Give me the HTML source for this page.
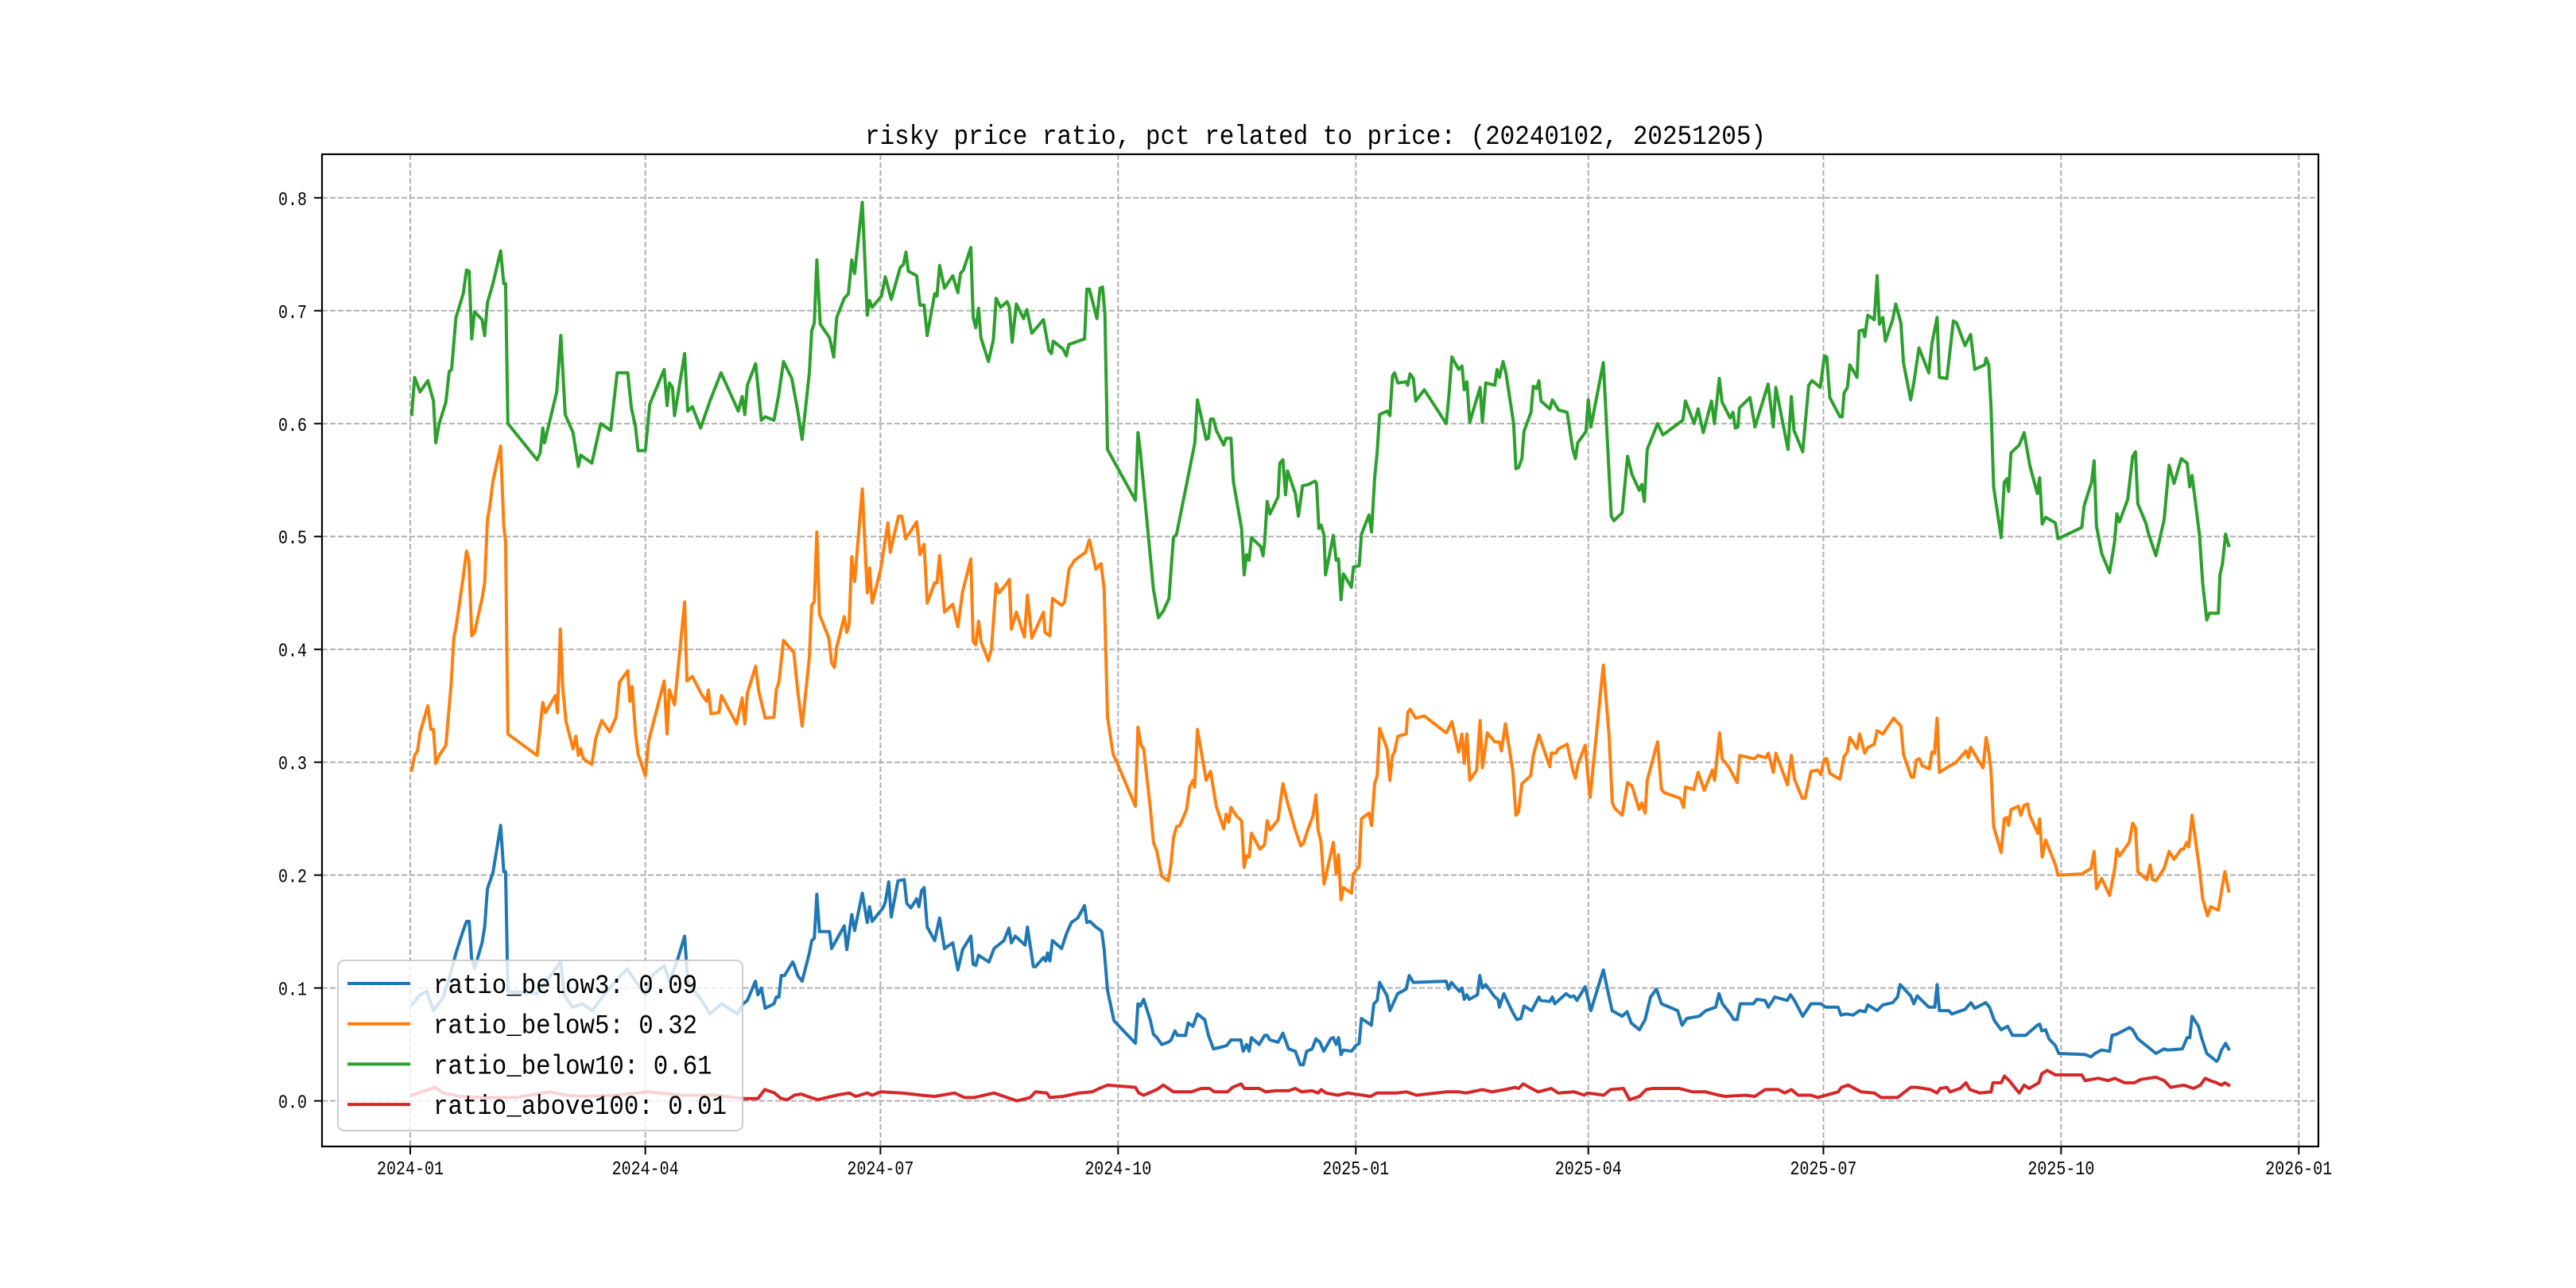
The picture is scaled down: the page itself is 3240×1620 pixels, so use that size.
<!DOCTYPE html>
<html><head><meta charset="utf-8"><style>
html,body{margin:0;padding:0;background:#fff;}
svg{display:block;}
text{font-family:"Liberation Mono","WenQuanYi Zen Hei",monospace;fill:#000;}
</style></head><body>
<svg id="chart" width="3240" height="1620" viewBox="0 0 3240 1620" xmlns="http://www.w3.org/2000/svg">
<rect x="0" y="0" width="3240" height="1620" fill="#fff"/>
<g id="grid"></g>
<g id="series"></g>
<rect x="405" y="194" width="2511" height="1248" fill="none" stroke="#000" stroke-width="2.2"/>
<g id="ticks"></g>
<text x="1088" y="181" font-size="34" textLength="1133" lengthAdjust="spacingAndGlyphs">risky price ratio, pct related to price: (20240102, 20251205)</text>
<g id="legend"></g>
</svg>
<script>
// x values are days since 2024-01-01
const xTickDays = [0, 91, 182, 274, 366, 456, 547, 639, 731];
const xTickLabels = ["2024-01","2024-04","2024-07","2024-10","2025-01","2025-04","2025-07","2025-10","2026-01"];
const yTicks = [0, 0.1, 0.2, 0.3, 0.4, 0.5, 0.6, 0.7, 0.8];
const yTickLabels = ["0.0","0.1","0.2","0.3","0.4","0.5","0.6","0.7","0.8"];
const seriesNames = ["ratio_below3: 0.09","ratio_below5: 0.32","ratio_below10: 0.61","ratio_above100: 0.01"];

const below3 = [[0.6,.085],[3.8,.094],[6.4,.097],[9,.080],[12.8,.092],[15.4,.111],[17.7,.131],[20.5,.151],[21.8,.159],[22.8,.159],[23.8,.125],[24.9,.117],[27.8,.140],[28.8,.154],[29.9,.188],[32,.202],[35,.244],[36.2,.203],[36.9,.203],[37.8,.097],[49,.095],[58.3,.123],[59.6,.094],[62.8,.083],[66.7,.086],[70.5,.080],[74.4,.092],[79.5,.106],[84,.117],[87.2,.106],[91,.094],[93.6,.111],[98.3,.120],[100.3,.106],[103.2,.123],[106.2,.146],[107.4,.106],[112.8,.089],[116,.077],[120.5,.086],[126.7,.077],[128.8,.086],[130.5,.089],[133.6,.106],[134.6,.094],[135.9,.100],[137.4,.082],[140.8,.086],[141.7,.092],[142.7,.092],[143.6,.111],[144.9,.111],[148,.123],[148.5,.121],[150,.111],[151.7,.106],[154.5,.131],[155.4,.142],[156.4,.144],[157.4,.183],[158.4,.150],[162.3,.150],[163.1,.135],[168,.155],[169,.134],[170.9,.165],[172,.151],[175,.184],[176.9,.158],[177.8,.172],[178.8,.159],[183,.171],[183.9,.176],[185.2,.194],[186.2,.163],[188.8,.195],[191.2,.196],[192.2,.175],[193.8,.171],[196,.179],[196.9,.172],[197.9,.186],[198.9,.189],[200.1,.154],[203,.142],[204.9,.162],[206.8,.135],[210,.140],[212,.116],[213.8,.134],[217,.146],[217.9,.121],[218.9,.120],[220,.129],[224,.123],[226,.135],[229.8,.142],[231.7,.153],[232.7,.140],[234.2,.146],[238,.138],[238.9,.154],[241.2,.119],[242.1,.119],[245.1,.127],[246,.124],[246.7,.131],[247.6,.124],[248.6,.142],[252.1,.135],[254,.148],[255.9,.158],[258.4,.162],[261,.173],[261.9,.158],[263.1,.159],[265.4,.154],[266.7,.152],[267.7,.150],[268.6,.134],[269.9,.098],[272.4,.071],[280.7,.051],[281.7,.086],[282.6,.084],[283.9,.090],[286.4,.072],[287.7,.059],[289,.056],[290.9,.050],[293.4,.052],[294.5,.054],[296,.062],[297,.058],[300.1,.058],[301.1,.069],[303,.066],[304.7,.077],[307.5,.072],[309,.058],[310.9,.046],[314.5,.048],[316,.049],[317.7,.054],[321.5,.054],[322.4,.044],[323.7,.050],[324.7,.044],[325.6,.056],[328.6,.050],[330.7,.058],[331.7,.058],[332.8,.054],[335.9,.052],[337.8,.060],[340,.046],[342.6,.044],[344.5,.032],[345.7,.032],[347,.044],[349.1,.046],[350.6,.055],[352.1,.052],[353.6,.044],[356.3,.055],[357.3,.056],[358.4,.050],[359.3,.056],[360.3,.041],[361.2,.045],[364.3,.044],[366,.049],[367.3,.051],[368.2,.073],[372,.067],[373,.086],[374.3,.089],[375.2,.105],[378.1,.093],[379.2,.080],[382.2,.095],[385.5,.099],[386.7,.111],[388.3,.105],[401,.106],[401.9,.099],[403,.105],[406.1,.097],[407.1,.100],[408,.090],[409,.094],[409.9,.090],[413.1,.094],[414,.111],[415,.100],[416.3,.103],[419.8,.092],[421,.090],[421.6,.083],[423.3,.095],[426.4,.080],[428.3,.072],[429.9,.073],[431.1,.084],[434.1,.080],[436.9,.092],[437.6,.089],[441.1,.088],[442.1,.092],[443,.086],[447.4,.095],[449.1,.092],[450.4,.093],[451.6,.089],[454.8,.101],[457,.080],[458.2,.089],[461.8,.116],[465.2,.080],[469.1,.075],[471,.079],[472.6,.069],[475.8,.063],[478,.072],[480.1,.092],[482.4,.099],[484.3,.086],[490.6,.080],[492.3,.067],[494.1,.073],[498.9,.075],[501.5,.080],[505.3,.083],[506.6,.095],[507.9,.086],[511,.077],[512.3,.072],[513.6,.072],[514.8,.086],[519.9,.086],[521.2,.090],[524.4,.089],[525.7,.083],[528.2,.092],[533,.089],[534.3,.094],[535.8,.089],[539,.075],[542.2,.086],[546,.086],[547.9,.083],[549.5,.083],[552.7,.083],[553.8,.076],[555.9,.077],[558.5,.076],[561,.080],[563.2,.079],[564.2,.085],[567.8,.080],[570,.085],[573.8,.087],[575.7,.092],[576.7,.103],[580.8,.093],[582,.086],[583.3,.093],[587.8,.083],[590.1,.083],[591,.103],[591.9,.080],[595.5,.080],[596.7,.077],[601.8,.081],[604.1,.087],[605.6,.082],[609.8,.087],[611.3,.083],[613.2,.071],[615.8,.063],[618.3,.066],[620.2,.058],[625.3,.058],[629.8,.067],[630.7,.068],[631.5,.062],[633,.063],[634.3,.055],[636.8,.049],[638.1,.042],[648.3,.041],[650.6,.039],[652.1,.042],[654.6,.045],[657.8,.044],[658.7,.058],[660.4,.059],[665.5,.065],[666.7,.063],[668.7,.055],[672.5,.048],[675.7,.042],[678.9,.046],[680.2,.045],[685.9,.046],[687.8,.056],[688.8,.056],[689.7,.075],[692.2,.066],[693.5,.055],[695.4,.042],[699.2,.035],[699.9,.037],[701.1,.045],[702.7,.051],[703.9,.046]];

const below5 = [[0.6,.293],[1.7,.306],[2.8,.310],[3.8,.326],[6.8,.350],[8,.329],[9,.329],[9.9,.299],[11.2,.306],[13.8,.315],[15.8,.368],[16.9,.411],[17.7,.419],[20.5,.464],[21.8,.487],[22.7,.479],[23.8,.412],[24.9,.415],[27.8,.445],[28.8,.459],[29.9,.515],[30.8,.527],[32,.549],[35,.580],[36.2,.510],[36.9,.495],[37.8,.325],[49.1,.306],[51.3,.353],[52.3,.344],[56.2,.359],[57,.344],[58.1,.418],[59,.367],[60.3,.336],[63,.312],[64.1,.323],[65.1,.306],[66,.312],[67,.303],[70.3,.298],[71.8,.321],[74.1,.337],[77.2,.327],[79.7,.340],[81,.371],[84.2,.381],[85,.354],[85.9,.367],[87.2,.326],[88.2,.307],[91,.288],[92.3,.319],[98.3,.372],[99.4,.325],[100.3,.364],[102.3,.351],[106.2,.442],[107.1,.372],[109.2,.376],[112.8,.360],[114.7,.354],[115.4,.364],[116.4,.343],[119.5,.344],[120.5,.359],[126.3,.334],[128.5,.357],[129.5,.334],[130.5,.361],[133.7,.385],[134.9,.363],[137.4,.339],[140.8,.340],[141.7,.364],[142.7,.371],[144.5,.408],[148.5,.397],[150,.363],[151.7,.332],[154.5,.393],[155.4,.439],[156.4,.442],[157.4,.504],[158.4,.431],[162,.410],[163.1,.388],[164.2,.384],[165.1,.402],[168,.429],[169,.415],[169.9,.422],[170.9,.482],[172,.460],[175,.542],[176.9,.450],[177.8,.472],[178.8,.441],[182,.470],[184.9,.512],[185.8,.486],[189,.518],[190.3,.518],[191.8,.498],[196,.513],[197.3,.484],[198.9,.493],[200.1,.441],[203,.459],[203.9,.459],[204.9,.483],[206.8,.433],[210,.440],[212,.420],[213.8,.451],[217,.480],[217.9,.407],[218.9,.404],[220,.425],[220.9,.407],[223.8,.390],[225,.401],[226.8,.458],[227.9,.450],[230.8,.458],[231.9,.462],[232.7,.418],[234.6,.433],[237.7,.411],[238.9,.448],[240.6,.410],[245.1,.433],[245.7,.415],[247.6,.412],[248.6,.445],[252.1,.439],[253.3,.442],[255,.471],[257.2,.479],[261.4,.486],[262.9,.497],[265.4,.471],[267.4,.476],[268.6,.453],[269.9,.340],[272.1,.307],[273.7,.299],[280.7,.261],[281.7,.331],[282.9,.315],[283.9,.312],[286.4,.261],[287.7,.229],[289,.221],[290.9,.199],[293.4,.195],[294.5,.210],[295.4,.233],[296.6,.243],[297.9,.244],[300.5,.258],[301.7,.278],[303,.284],[303.6,.278],[304.7,.329],[308.1,.284],[309.8,.292],[312,.261],[314.9,.241],[315.8,.254],[316.8,.247],[317.7,.260],[319.6,.253],[321.8,.248],[322.8,.207],[323.7,.217],[324.7,.216],[325.6,.237],[328.9,.223],[330.7,.227],[331.7,.248],[332.8,.240],[335.9,.249],[337.8,.281],[339.6,.264],[342.6,.240],[344.7,.226],[345.7,.228],[347.4,.240],[349.5,.253],[350.6,.271],[351.4,.240],[352.5,.230],[353.7,.192],[357.3,.229],[358.4,.201],[359.3,.218],[360.3,.178],[361.2,.189],[364.3,.184],[365.1,.201],[367.3,.208],[368.2,.250],[371.1,.255],[372.1,.244],[373.3,.281],[374.3,.288],[375.2,.330],[378.1,.312],[379.2,.284],[380.2,.306],[381,.309],[382.3,.323],[385.5,.325],[386.1,.344],[387,.347],[389.2,.339],[392.5,.341],[401,.326],[403.2,.336],[405.8,.309],[407.1,.325],[408,.299],[409,.325],[410.1,.284],[412.8,.293],[414.1,.337],[415,.295],[416.9,.326],[419.8,.318],[421.6,.318],[422.4,.310],[423.9,.334],[426.8,.292],[428,.253],[429,.256],[430.3,.281],[433.7,.288],[434.7,.306],[436.9,.324],[441.1,.296],[441.7,.308],[443.4,.308],[444.5,.312],[447.8,.316],[450,.293],[451,.286],[452.1,.299],[454.8,.315],[456,.284],[456.7,.269],[461.8,.386],[464,.325],[465.3,.264],[466.3,.259],[469.1,.253],[471.2,.282],[472.9,.279],[475.7,.258],[476.7,.264],[478,.255],[478.8,.284],[482.8,.318],[484.3,.276],[485.4,.273],[491.6,.268],[492.9,.260],[493.6,.278],[496.8,.276],[498.5,.291],[500.9,.275],[504,.293],[504.9,.284],[506.8,.326],[507.8,.303],[510.3,.296],[513.6,.282],[514.6,.306],[520.3,.303],[521.6,.306],[524.6,.304],[525.7,.308],[527.6,.291],[528.6,.308],[533.1,.280],[534.6,.306],[535.8,.285],[538.8,.268],[539.9,.268],[542.2,.292],[544.8,.293],[546,.289],[547.4,.303],[548.3,.303],[549.5,.290],[553.4,.285],[555,.305],[556.3,.309],[557.2,.322],[560,.312],[561,.325],[563,.308],[564.2,.313],[566.7,.316],[567.8,.328],[570,.325],[574.2,.339],[577,.332],[578,.307],[581,.287],[582,.287],[583,.302],[584.2,.303],[585.2,.297],[588,.294],[589,.309],[590,.308],[591,.339],[591.9,.291],[596,.297],[598,.299],[602.2,.310],[603.1,.304],[604,.313],[608.8,.295],[610,.322],[611,.309],[611.9,.292],[612.9,.243],[615.8,.220],[617,.250],[618,.251],[618.7,.244],[619.6,.258],[622.5,.261],[623.4,.253],[624.7,.262],[626,.263],[626.9,.253],[630,.237],[630.7,.250],[631.7,.216],[633,.231],[636.8,.209],[637.8,.200],[647,.201],[650.6,.206],[651.8,.221],[652.7,.188],[654.7,.197],[657.8,.182],[659.7,.205],[660.6,.223],[661.6,.217],[665.4,.229],[666.7,.246],[667.8,.242],[668.7,.203],[672.2,.196],[673.5,.209],[674.4,.196],[675.7,.195],[678.9,.206],[680.8,.221],[682.7,.214],[685.5,.223],[686.5,.223],[687.6,.229],[688.4,.225],[689.7,.253],[692.6,.205],[693.8,.179],[695.7,.164],[696.9,.172],[699.9,.169],[701.1,.186],[702.4,.203],[703.9,.186]];

const below10 = [[0.6,.608],[1.7,.641],[3.8,.628],[6.8,.638],[9,.620],[9.9,.583],[11.2,.600],[13.8,.619],[15.1,.646],[16,.648],[17.7,.694],[20.5,.715],[21.8,.736],[22.8,.735],[23.8,.675],[24.9,.699],[27.8,.692],[28.8,.678],[29.9,.707],[32,.724],[35,.753],[36.2,.724],[36.9,.724],[37.8,.600],[49.1,.568],[50.3,.574],[51.3,.596],[52,.583],[56.7,.628],[58.3,.678],[60,.608],[63,.592],[65.1,.562],[66,.572],[70.3,.565],[73.7,.600],[77.6,.594],[80.1,.645],[84.2,.645],[85.6,.614],[87.2,.597],[88.2,.576],[91,.576],[92.7,.617],[98.3,.648],[99.4,.616],[100.3,.636],[101.5,.632],[102.3,.607],[106.2,.662],[107.4,.611],[109.2,.615],[112.4,.596],[116,.620],[120.3,.645],[127,.611],[128.5,.624],[129.5,.608],[130.5,.634],[133.7,.653],[135.9,.603],[137.4,.606],[140.8,.603],[142.6,.625],[144.5,.655],[147.7,.640],[150,.611],[151.7,.586],[154.5,.645],[155.4,.682],[156.4,.689],[157.4,.745],[158.7,.688],[162.3,.676],[163.9,.659],[165.1,.694],[168,.711],[169.6,.715],[170.9,.745],[172,.733],[175,.796],[176.9,.696],[177.8,.709],[178.8,.703],[182.4,.713],[183.9,.730],[186.2,.710],[189.6,.738],[190.9,.741],[191.9,.752],[192.8,.735],[196,.731],[197.3,.705],[198.9,.705],[200.1,.678],[203,.715],[203.9,.713],[204.9,.740],[206.8,.720],[210,.731],[212,.716],[213,.733],[214.1,.736],[217,.756],[217.9,.694],[218.9,.685],[220,.702],[220.9,.676],[223.8,.655],[225.7,.674],[226.8,.711],[228.5,.703],[231,.708],[231.9,.703],[233,.672],[234.6,.706],[237.4,.693],[238.7,.701],[240.6,.680],[245.1,.692],[247.2,.665],[248.2,.662],[248.9,.673],[252.7,.666],[254,.660],[254.9,.670],[261,.675],[261.9,.719],[262.9,.719],[265.8,.693],[267,.720],[268,.721],[268.9,.697],[269.9,.577],[280.7,.532],[281.7,.592],[282.6,.575],[286.4,.484],[287.7,.453],[289.6,.428],[291.5,.434],[293.7,.445],[295.4,.499],[296.6,.502],[300.5,.546],[303.7,.583],[304.7,.621],[308.1,.586],[309,.587],[309.8,.604],[310.9,.604],[312,.594],[314.9,.581],[315.8,.587],[317.7,.587],[318.6,.549],[321.8,.507],[322.8,.466],[323.7,.484],[324.7,.479],[325.6,.499],[329.2,.491],[330.1,.483],[330.7,.495],[331.7,.531],[332.8,.520],[335.9,.535],[336.6,.565],[337.8,.568],[338.8,.537],[339.6,.558],[342.6,.538],[343.8,.518],[345.4,.545],[347.6,.546],[350.2,.549],[350.8,.547],[351.7,.507],[352.6,.510],[353.7,.501],[354.3,.466],[357.3,.501],[358.4,.479],[359.3,.480],[360.3,.444],[361.2,.467],[364.3,.455],[365.1,.473],[367.3,.474],[368.2,.502],[371.1,.519],[372.1,.504],[373.3,.552],[374.3,.575],[375.2,.608],[378.1,.611],[379.2,.607],[380.2,.642],[381,.645],[382.3,.636],[385.5,.637],[386.1,.634],[387,.644],[388.3,.640],[389.2,.620],[392.5,.630],[401,.600],[402,.623],[403.2,.659],[405.8,.648],[407.1,.651],[408,.630],[409,.637],[410.1,.601],[414.1,.632],[415,.601],[416.3,.636],[419.8,.634],[420.7,.648],[421.6,.641],[423,.655],[424.1,.645],[427.1,.600],[428,.560],[429,.561],[430.3,.569],[431.1,.593],[433.8,.610],[434.7,.633],[436,.631],[436.9,.638],[437.7,.620],[441.1,.613],[442.1,.621],[444.5,.612],[447.8,.610],[450,.577],[451,.569],[451.9,.583],[455.1,.593],[456,.621],[457,.597],[461.8,.654],[463.1,.597],[464.9,.518],[465.9,.514],[469.1,.521],[471.2,.571],[472.9,.555],[475.7,.541],[476.7,.546],[477.7,.531],[478.8,.577],[482.8,.600],[484.9,.590],[492.6,.603],[493.6,.620],[497,.600],[498.5,.613],[500.5,.592],[503.7,.620],[504.8,.600],[506.7,.640],[507.8,.619],[510.9,.605],[512,.610],[512.9,.596],[513.9,.597],[514.5,.614],[518.6,.623],[520.5,.597],[525.6,.635],[527.6,.597],[528.6,.632],[533.3,.577],[534.6,.624],[535.6,.594],[539,.575],[541.3,.634],[542.6,.638],[545.8,.632],[547.4,.660],[548.3,.659],[549.5,.623],[553.4,.606],[554.3,.606],[555,.627],[556.3,.632],[557.2,.652],[560,.641],[560.8,.682],[562.3,.683],[563,.677],[564.2,.696],[566.7,.692],[567.8,.731],[568.7,.688],[570,.694],[571,.673],[573.8,.692],[575,.706],[577,.689],[578,.654],[580.8,.621],[582,.636],[584,.667],[587.8,.645],[589,.671],[591,.694],[591.9,.641],[594.8,.640],[597.3,.691],[598.6,.689],[601.8,.669],[604,.679],[605.6,.648],[609.4,.652],[610,.658],[611,.652],[611.9,.614],[612.9,.544],[615.8,.499],[617,.548],[618,.551],[618.7,.540],[619.6,.574],[622.8,.581],[624.7,.592],[626.9,.563],[629.8,.538],[630.7,.552],[631.7,.511],[633,.517],[636.8,.512],[637.8,.498],[647,.508],[647.9,.527],[650.8,.548],[651.8,.567],[652.7,.509],[654.7,.485],[657.8,.468],[659.7,.495],[660.6,.520],[661.6,.513],[664.8,.533],[666.7,.571],[667.8,.575],[668.7,.529],[671.8,.512],[672.9,.502],[675.7,.483],[678.9,.515],[680.8,.563],[682.7,.547],[685.5,.569],[687.8,.565],[688.8,.544],[689.7,.554],[692.6,.501],[693.8,.459],[695.4,.426],[696.4,.432],[699.9,.432],[700.5,.466],[701.5,.476],[702.7,.502],[703.9,.492]];

const above100 = [[0.6,.005],[9.6,.012],[12.8,.007],[19.2,.004],[28.2,.003],[41,.003],[53.8,.008],[60.3,.005],[66.7,.004],[79.5,.005],[92.3,.008],[105,.005],[118,.005],[129.5,.002],[134.6,.002],[137.2,.010],[141,.007],[143.6,.002],[146,.001],[148.7,.005],[151.3,.006],[153.8,.004],[157.7,.001],[165,.005],[170,.007],[172.4,.004],[176.9,.007],[178.8,.005],[182,.008],[190.3,.007],[197.9,.005],[203,.004],[210.7,.007],[214.5,.003],[218.3,.003],[226,.007],[229.8,.004],[234.9,.000],[240,.003],[242,.008],[246.4,.007],[247.6,.003],[252.7,.004],[259,.007],[264,.008],[266.7,.011],[269.9,.014],[280.7,.012],[282,.007],[283.9,.005],[289,.010],[291.5,.014],[295.4,.008],[302.4,.008],[306.2,.011],[309.4,.011],[311.3,.008],[316.4,.008],[318.3,.012],[321.6,.015],[322.9,.011],[328.6,.011],[331.1,.008],[335,.009],[340,.009],[342.6,.011],[345.1,.008],[349,.009],[351.5,.007],[352.6,.010],[354.5,.007],[359,.005],[362.8,.007],[371.7,.004],[374.2,.007],[378,.007],[381.8,.007],[385.6,.008],[389.5,.005],[401,.008],[406,.008],[408.6,.007],[415,.010],[418.7,.008],[423.8,.010],[427.7,.012],[429,.011],[430.8,.015],[434,.011],[436.6,.008],[441.7,.011],[444.3,.007],[450.6,.008],[454.4,.005],[455.7,.007],[462,.005],[464.6,.010],[469.6,.011],[472,.001],[475.8,.004],[478.4,.010],[481,.011],[487.3,.011],[491.2,.011],[496.3,.008],[501.4,.008],[506.5,.005],[509,.004],[516.7,.005],[520.5,.004],[524.4,.010],[529.5,.010],[532,.007],[534.6,.010],[537.2,.005],[542.2,.005],[544.8,.003],[552.7,.008],[554,.012],[556.6,.014],[561.6,.008],[566.7,.007],[569.3,.003],[575.7,.003],[580.8,.012],[583.3,.012],[588.4,.010],[591,.007],[592.2,.011],[594.8,.012],[596,.008],[599.9,.011],[602.2,.016],[603.7,.010],[607.5,.007],[611.9,.008],[612.6,.016],[615.8,.016],[617.1,.022],[618.9,.018],[622.8,.007],[624.7,.014],[626.6,.011],[630.4,.016],[631.5,.024],[633.6,.027],[636.8,.023],[647,.023],[648.3,.018],[653.4,.020],[657.2,.018],[659.7,.020],[663.6,.016],[667.4,.016],[669.9,.019],[675.7,.021],[678.9,.018],[681.4,.012],[686.5,.014],[690.3,.011],[692.9,.014],[694.8,.020],[696.7,.018],[699.2,.016],[701.1,.014],[702.4,.016],[703.9,.014]];

const NS = "http://www.w3.org/2000/svg";
const plotL = 405, plotR = 2916, plotT = 194, plotB = 1442;
const xMin = -34.15, xMax = 738.6, yMin = -0.0404, yMax = 0.8386;
function xScale(d){ return plotL + (d - xMin) / (xMax - xMin) * (plotR - plotL); }
function yScale(v){ return plotB - (v - yMin) / (yMax - yMin) * (plotB - plotT); }
function mk(tag, attrs, parent){
  const e = document.createElementNS(NS, tag);
  for (const k in attrs) e.setAttribute(k, attrs[k]);
  parent.appendChild(e);
  return e;
}
const grid = document.getElementById('grid');
const ticks = document.getElementById('ticks');
xTickDays.forEach((d, i) => {
  const x = xScale(d);
  const g = mk('line', {x1:x, x2:x, y1:plotT, y2:plotB, stroke:'#b0b0b0', 'stroke-width':2, 'stroke-dasharray':'7,3'}, grid);
  
  
  const t = mk('line', {x1:x, x2:x, y1:plotB, y2:plotB+10, stroke:'#000', 'stroke-width':2}, ticks);
  
  
  const lb = mk('text', {x:x, y:plotB+35, 'font-size':24, 'text-anchor':'middle', textLength:84, lengthAdjust:'spacingAndGlyphs'}, ticks);
  lb.textContent = xTickLabels[i];
  
  
});
yTicks.forEach((v, i) => {
  const y = yScale(v);
  const g = mk('line', {x1:plotL, x2:plotR, y1:y, y2:y, stroke:'#b0b0b0', 'stroke-width':2, 'stroke-dasharray':'7,3'}, grid);
  
  
  const t = mk('line', {x1:plotL-10, x2:plotL, y1:y, y2:y, stroke:'#000', 'stroke-width':2}, ticks);
  
  
  const lb = mk('text', {x:386, y:y+9, 'font-size':24, 'text-anchor':'end', textLength:36, lengthAdjust:'spacingAndGlyphs'}, ticks);
  lb.textContent = yTickLabels[i];
  
  
});
const colors = ['#1f77b4', '#ff7f0e', '#2ca02c', '#d62728'];
const allSeries = [below3, below5, below10, above100];
const seriesIds = ['line-ratio-below3', 'line-ratio-below5', 'line-ratio-below10', 'line-ratio-above100'];
const sg = document.getElementById('series');
allSeries.forEach((s, i) => {
  const pts = s.map(p => xScale(p[0]).toFixed(1) + ',' + yScale(p[1]).toFixed(1)).join(' ');
  const pl = mk('polyline', {points:pts, fill:'none', stroke:colors[i], 'stroke-width':4, 'stroke-linejoin':'round', 'stroke-linecap':'square'}, sg);
  
  
});
const lg = document.getElementById('legend');
const box = mk('rect', {x:425, y:1208, width:509, height:214, rx:8, ry:8, fill:'#fff', 'fill-opacity':0.8, stroke:'#cccccc', 'stroke-width':2}, lg);


seriesNames.forEach((name, i) => {
  const cy = 1237 + i * 50.7;
  const ln = mk('line', {x1:437, x2:516, y1:cy, y2:cy, stroke:colors[i], 'stroke-width':4}, lg);
  
  
  const tx = mk('text', {x:545, y:cy+12, 'font-size':34, textLength:(name.length*18.45).toFixed(1), lengthAdjust:'spacingAndGlyphs'}, lg);
  tx.textContent = name;
  
  
});
</script>
</body></html>
